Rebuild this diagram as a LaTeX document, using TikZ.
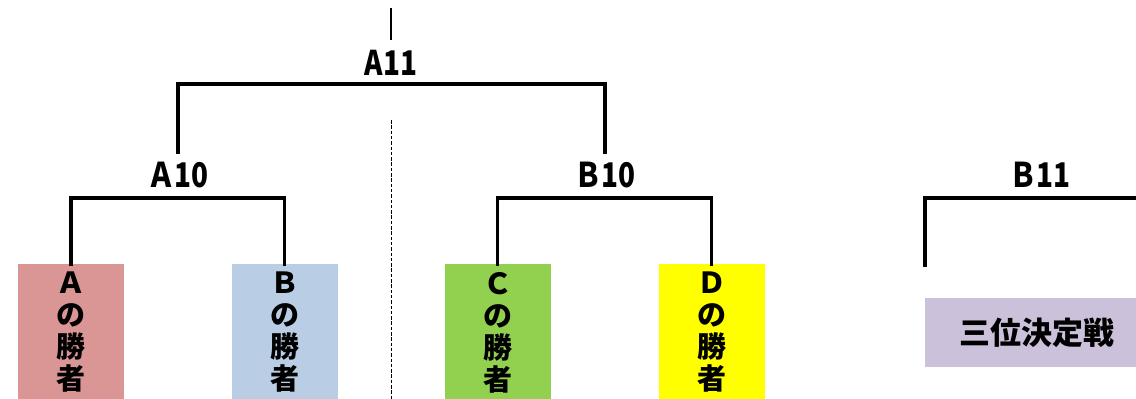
\documentclass[tikz,border=0pt]{standalone}
\usepackage{fontspec}
\newfontfamily\jp{Noto Sans CJK JP}
\definecolor{cA}{HTML}{D99694}
\definecolor{cB}{HTML}{B9CDE5}
\definecolor{cC}{HTML}{92D050}
\definecolor{cD}{HTML}{FFFF00}
\definecolor{cE}{HTML}{CCC1DA}
\newcommand{\narrow}[1]{\scalebox{0.82}[1]{#1}}
\begin{document}
\begin{tikzpicture}[x=1pt,y=-1pt,
  team/.style={fill=#1,draw=none,minimum width=106pt,minimum height=137pt,inner sep=0pt,
    align=center,font=\jp\bfseries\fontsize{29}{32}\selectfont},
  lbl/.style={inner sep=0pt,font=\jp\bfseries\fontsize{34}{36}\selectfont},
  bracket/.style={line width=3.5pt,line cap=rect},
  thinline/.style={line width=1.2pt}]
\useasboundingbox (0,0) rectangle (1136,399);
% boxes
\node[team=cA] (tA) at (71,332.5) {Ａ\\の\\勝\\者};
\node[team=cB] (tB) at (284.5,332.5) {Ｂ\\の\\勝\\者};
\node[team=cC] (tC) at (497.5,332.5) {Ｃ\\の\\勝\\者};
\node[team=cD] (tD) at (711.5,332.5) {Ｄ\\の\\勝\\者};
\node[fill=cE,minimum width=211pt,minimum height=69pt,inner sep=0pt,
  font=\jp\bfseries\fontsize{31}{34}\selectfont] (third) at (1030.5,332.5) {\hspace*{12pt}三位決定戦};
% labels
\node[lbl] (A11) at (391,63) {\narrow{A11}};
\node[lbl] (A10) at (178,175) {\narrow{Ａ10}};
\node[lbl] (B10) at (605,175) {\narrow{Ｂ10}};
\node[lbl] (B11) at (1040,175) {\narrow{Ｂ11}};
% coordinates
\coordinate (top) at (391,8);
\coordinate (topend) at (391,40);
\coordinate (jA11) at (391,84);
\coordinate (a10top) at (178,152);
\coordinate (b10top) at (605,152);
\coordinate (jA10) at (178,198);
\coordinate (jB10) at (605,198);
\coordinate (b11l) at (925,265);
\coordinate (b11c) at (925,198);
\coordinate (b11r) at (1140,198);
\coordinate (dtop) at (391,120);
\coordinate (dbot) at (391,399);
% connectors
\draw[thinline] (top) -- (topend);
\draw[bracket] (a10top) |- (jA11) -| (b10top);
\draw[bracket] (tA.north) |- (jA10) -| (tB.north);
\draw[bracket] (tC.north) |- (jB10) -| (tD.north);
\draw[bracket] (b11l) -- (b11c) -- (b11r);
\draw[line width=1pt,dash pattern=on 3.5pt off 1.8pt] (dtop) -- (dbot);
\end{tikzpicture}
\end{document}
